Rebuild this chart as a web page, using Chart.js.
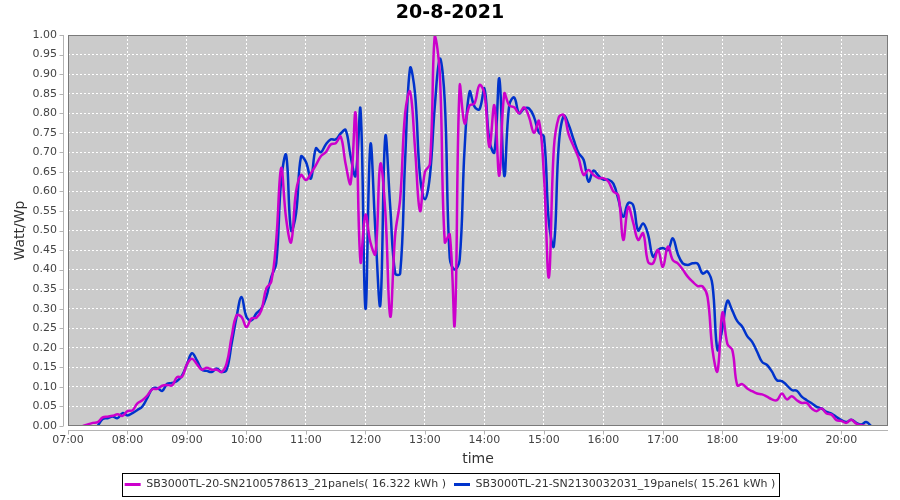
<!DOCTYPE html>
<html>
<head>
<meta charset="utf-8">
<title>20-8-2021</title>
<script src="https://cdn.jsdelivr.net/npm/chart.js@4.4.1/dist/chart.umd.min.js"></script>
<style>
  html, body { margin: 0; padding: 0; background: #fff; }
</style>
</head>
<body>
<canvas id="chart" width="900" height="500"></canvas>
<script>
// sample times (one row per hour)
const times = [
  "07:15","07:20","07:25","07:30","07:35","07:40","07:45","07:50","07:55",
  "08:00","08:05","08:10","08:15","08:20","08:25","08:30","08:35","08:40","08:45","08:50","08:55",
  "09:00","09:05","09:10","09:15","09:20","09:25","09:30","09:35","09:40","09:45","09:50","09:55",
  "10:00","10:05","10:10","10:15","10:20","10:25","10:30","10:35","10:40","10:45","10:50","10:55",
  "11:00","11:05","11:10","11:15","11:20","11:25","11:30","11:35","11:40","11:45","11:50","11:55",
  "12:00","12:05","12:10","12:15","12:20","12:25","12:30","12:35","12:40","12:45","12:50","12:55",
  "13:00","13:05","13:10","13:15","13:20","13:25","13:30","13:35","13:40","13:45","13:50","13:55",
  "14:00","14:05","14:10","14:15","14:20","14:25","14:30","14:35","14:40","14:45","14:50","14:55",
  "15:00","15:05","15:10","15:15","15:20","15:25","15:30","15:35","15:40","15:45","15:50","15:55",
  "16:00","16:05","16:10","16:15","16:20","16:25","16:30","16:35","16:40","16:45","16:50","16:55",
  "17:00","17:05","17:10","17:15","17:20","17:25","17:30","17:35","17:40","17:45","17:50","17:55",
  "18:00","18:05","18:10","18:15","18:20","18:25","18:30","18:35","18:40","18:45","18:50","18:55",
  "19:00","19:05","19:10","19:15","19:20","19:25","19:30","19:35","19:40","19:45","19:50","19:55",
  "20:00","20:05","20:10","20:15","20:20","20:25","20:30"
];

const hourTicks = ["07:00","08:00","09:00","10:00","11:00","12:00","13:00",
                   "14:00","15:00","16:00","17:00","18:00","19:00","20:00"];

// SB3000TL-20 (magenta)
const inv20 = [
  0.0, 0.004, 0.008, 0.01, 0.022, 0.024, 0.026, 0.03, 0.026,
  0.038, 0.04, 0.058, 0.066, 0.078, 0.094, 0.095, 0.103, 0.105, 0.104, 0.125, 0.126,
  0.158, 0.172, 0.158, 0.144, 0.149, 0.144, 0.144, 0.138, 0.16, 0.228, 0.283, 0.279,
  0.253, 0.275, 0.277, 0.296, 0.352, 0.369, 0.475, 0.66, 0.53, 0.47, 0.60, 0.642,
  0.629, 0.646, 0.667, 0.69, 0.70, 0.72, 0.723, 0.74, 0.67, 0.62, 0.80, 0.42,
  0.54, 0.47, 0.44, 0.67, 0.55, 0.28, 0.49, 0.58, 0.80, 0.855, 0.71, 0.55,
  0.65, 0.67, 1.0, 0.90, 0.47, 0.49, 0.26, 0.87, 0.774, 0.82, 0.825, 0.872,
  0.85, 0.714, 0.82, 0.64, 0.85, 0.82, 0.815, 0.80, 0.815, 0.79, 0.75, 0.78,
  0.64, 0.38, 0.71, 0.79, 0.795, 0.745, 0.715, 0.685, 0.642, 0.655, 0.642, 0.634,
  0.634, 0.625, 0.60, 0.59, 0.476, 0.56, 0.52, 0.476, 0.493, 0.42, 0.416, 0.45,
  0.407, 0.459, 0.424, 0.416, 0.40, 0.382, 0.369, 0.358, 0.357, 0.33, 0.195, 0.14,
  0.29, 0.21, 0.194, 0.104, 0.107, 0.096, 0.089, 0.083, 0.081, 0.075, 0.068, 0.066,
  0.083, 0.068, 0.076, 0.066, 0.059, 0.059, 0.045, 0.038, 0.045, 0.032, 0.029, 0.015,
  0.013, 0.008, 0.016, 0.006, 0.002, 0.0, null
];

// SB3000TL-21 (blue)
const inv21 = [
  null, null, null, 0.0, 0.018, 0.02, 0.024, 0.02, 0.033,
  0.027, 0.033, 0.041, 0.05, 0.072, 0.095, 0.097, 0.09, 0.108, 0.11, 0.115, 0.129,
  0.158, 0.186, 0.168, 0.144, 0.141, 0.138, 0.147, 0.138, 0.144, 0.21, 0.279, 0.33,
  0.279, 0.27, 0.288, 0.30, 0.33, 0.381, 0.416, 0.629, 0.693, 0.50, 0.544, 0.689,
  0.675, 0.633, 0.71, 0.70, 0.72, 0.733, 0.733, 0.748, 0.757, 0.69, 0.64, 0.81,
  0.30, 0.72, 0.50, 0.31, 0.74, 0.56, 0.39, 0.39, 0.68, 0.915, 0.85, 0.64,
  0.58, 0.64, 0.82, 0.94, 0.83, 0.43, 0.40, 0.425, 0.71, 0.855, 0.817, 0.81,
  0.863, 0.73, 0.70, 0.889, 0.64, 0.82, 0.84, 0.80, 0.812, 0.812, 0.79, 0.75,
  0.74, 0.52, 0.46, 0.72, 0.793, 0.77, 0.732, 0.698, 0.681, 0.625, 0.653, 0.64,
  0.63, 0.63, 0.62, 0.58, 0.535, 0.57, 0.565, 0.50, 0.518, 0.49, 0.433, 0.45,
  0.455, 0.45, 0.48, 0.44, 0.416, 0.412, 0.416, 0.415, 0.39, 0.395, 0.36, 0.195,
  0.25, 0.32, 0.295, 0.268, 0.254, 0.23, 0.215, 0.19, 0.164, 0.156, 0.139, 0.117,
  0.115, 0.104, 0.092, 0.09, 0.075, 0.066, 0.058, 0.049, 0.045, 0.036, 0.032, 0.023,
  0.015, 0.01, 0.016, 0.008, 0.004, 0.01, 0.0
];

const label20 = "SB3000TL-20-SN2100578613_21panels( 16.322 kWh )";
const label21 = "SB3000TL-21-SN2130032031_19panels( 15.261 kWh )";

function toMin(s) {
  const [h, m] = s.split(":").map(Number);
  return h * 60 + m;
}

function points(values) {
  return times.map((t, i) => ({ x: toMin(t), y: values[i] }));
}

Chart.defaults.font.family = "'DejaVu Sans', sans-serif";

// grey plot background, outline, offset axis lines, framed legend
const plotFrame = {
  id: "plotFrame",
  beforeDraw(chart) {
    const { ctx, chartArea: a } = chart;
    ctx.save();
    ctx.fillStyle = "#cbcbcb";
    ctx.fillRect(a.left, a.top, a.right - a.left, a.bottom - a.top);
    ctx.restore();
  },
  afterDraw(chart) {
    const { ctx, chartArea: a, scales } = chart;
    ctx.save();
    ctx.lineWidth = 1;
    ctx.strokeStyle = "#7a7a7a";
    ctx.strokeRect(a.left + 0.5, a.top + 0.5, a.right - a.left - 1, a.bottom - a.top - 1);

    const ax = a.left - 4.5, ay = a.bottom + 4.5;
    ctx.strokeStyle = "#b4b4b4";
    ctx.beginPath();
    ctx.moveTo(ax, a.top); ctx.lineTo(ax, a.bottom);
    ctx.moveTo(a.left, ay); ctx.lineTo(a.right, ay);
    scales.y.ticks.forEach(t => {
      const py = Math.round(scales.y.getPixelForValue(t.value)) + 0.5;
      ctx.moveTo(ax - 4, py); ctx.lineTo(ax, py);
    });
    scales.x.ticks.forEach(t => {
      const px = Math.round(scales.x.getPixelForValue(t.value)) + 0.5;
      ctx.moveTo(px, ay); ctx.lineTo(px, ay + 4);
    });
    ctx.stroke();

    const boxes = chart.legend.legendHitBoxes;
    if (boxes && boxes.length) {
      const l = Math.min(...boxes.map(b => b.left)) - 3;
      const r = Math.max(...boxes.map(b => b.left + b.width)) + 3;
      const cy = boxes[0].top + boxes[0].height / 2;
      ctx.strokeStyle = "#000";
      ctx.strokeRect(Math.round(l) + 0.5, Math.round(cy - 11.5) + 0.5, Math.round(r - l), 23);
    }
    ctx.restore();
  }
};

new Chart(document.getElementById("chart"), {
  type: "line",
  data: {
    datasets: [{
      label: label20,
      data: points(inv20),
      borderColor: "#cc00cc",
      backgroundColor: "#cc00cc",
      borderWidth: 2.5,
      pointRadius: 0,
      tension: 0.4
    }, {
      label: label21,
      data: points(inv21),
      borderColor: "#0033cc",
      backgroundColor: "#0033cc",
      borderWidth: 2.5,
      pointRadius: 0,
      tension: 0.4
    }]
  },
  options: {
    responsive: false,
    animation: false,
    devicePixelRatio: 1,
    layout: { padding: { left: 12, right: 12, top: 0, bottom: 0 } },
    plugins: {
      tooltip: { enabled: false },
      title: {
        display: true,
        text: "20-8-2021",
        color: "#000",
        font: { size: 19, weight: "bold" },
        padding: { top: 2, bottom: 10.2 }
      },
      legend: {
        position: "bottom",
        labels: {
          color: "#333",
          font: { size: 11 },
          boxWidth: 16,
          boxHeight: 3,
          padding: 8,
          generateLabels(chart) {
            const items = Chart.defaults.plugins.legend.labels.generateLabels(chart);
            items.forEach(it => { it.lineWidth = 0; });
            return items;
          }
        }
      }
    },
    scales: {
      x: {
        type: "linear",
        min: 420,
        max: 1247,
        afterBuildTicks(scale) {
          scale.ticks = hourTicks.map(s => ({ value: toMin(s) }));
        },
        afterFit(scale) { scale.height = 45; },
        ticks: {
          color: "#444",
          font: { size: 11 },
          padding: 8,
          autoSkip: false,
          maxRotation: 0,
          callback: v => hourTicks.find(s => toMin(s) === v) || ""
        },
        grid: { color: "#ffffff", drawTicks: false },
        border: { display: false, dash: [2, 2] },
        title: {
          display: true,
          text: "time",
          color: "#333",
          font: { size: 14 },
          padding: { top: 0, bottom: 3.6 }
        }
      },
      y: {
        min: 0,
        max: 1,
        afterFit(scale) { scale.width = 56; },
        ticks: {
          stepSize: 0.05,
          color: "#444",
          font: { size: 11 },
          padding: 11,
          autoSkip: false,
          callback: v => v.toFixed(2)
        },
        grid: { color: "#ffffff", drawTicks: false },
        border: { display: false, dash: [2, 2] },
        title: {
          display: true,
          text: "Watt/Wp",
          color: "#333",
          font: { size: 14 },
          padding: { top: 0, bottom: 0 }
        }
      }
    }
  },
  plugins: [plotFrame]
});
</script>
</body>
</html>
